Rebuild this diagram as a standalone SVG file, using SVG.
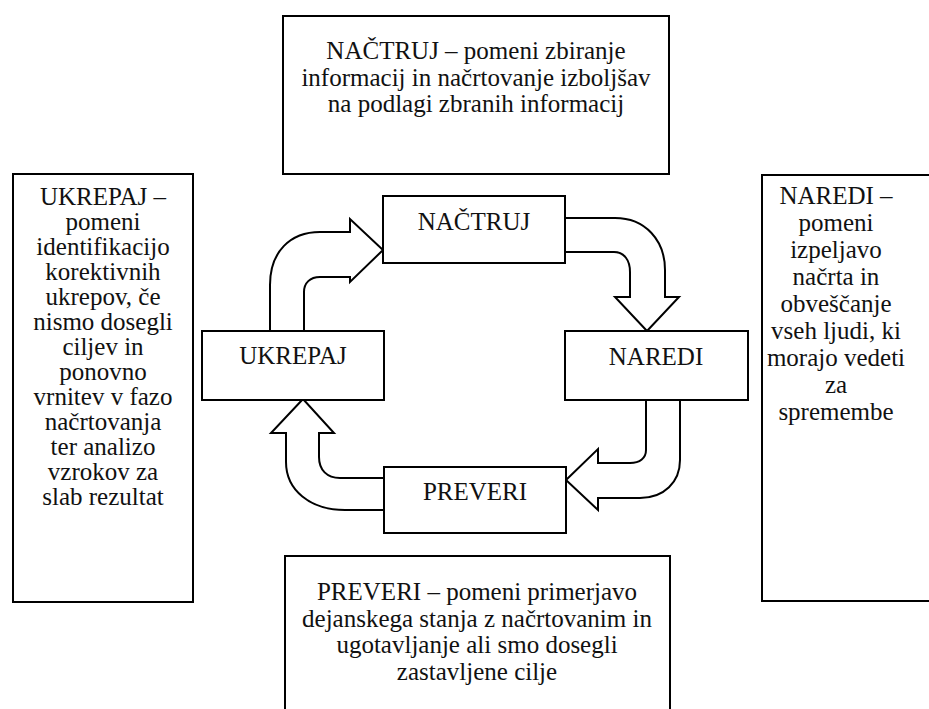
<svg xmlns="http://www.w3.org/2000/svg" width="929" height="709" viewBox="0 0 929 709">
<style>
.box{fill:#fff;stroke:#000;stroke-width:2}
.arr{fill:#fff;stroke:#000;stroke-width:2;stroke-linejoin:miter}
text{font-family:"Liberation Serif","Times New Roman",serif;font-size:25px;fill:#111;text-anchor:middle}
</style>
<rect width="929" height="709" fill="#fff"/>
<g id="desc-nactruj">
<rect class="box" x="283" y="16" width="386" height="158"/>
<text x="476" y="59">NAČTRUJ – pomeni zbiranje</text>
<text x="476" y="86">informacij in načrtovanje izboljšav</text>
<text x="476" y="112">na podlagi zbranih informacij</text>
</g>
<g id="desc-ukrepaj">
<rect class="box" x="13" y="174" width="180" height="428"/>
<text x="103" y="205">UKREPAJ –</text>
<text x="103" y="230">pomeni</text>
<text x="103" y="255">identifikacijo</text>
<text x="103" y="280">korektivnih</text>
<text x="103" y="305">ukrepov, če</text>
<text x="103" y="330">nismo dosegli</text>
<text x="103" y="355">ciljev in</text>
<text x="103" y="380">ponovno</text>
<text x="103" y="405">vrnitev v fazo</text>
<text x="103" y="430">načrtovanja</text>
<text x="103" y="455">ter analizo</text>
<text x="103" y="480">vzrokov za</text>
<text x="103" y="505">slab rezultat</text>
</g>
<g id="desc-naredi">
<rect class="box" x="762" y="175" width="190" height="426"/>
<text x="836" y="204">NAREDI –</text>
<text x="836" y="231">pomeni</text>
<text x="836" y="258">izpeljavo</text>
<text x="836" y="285">načrta in</text>
<text x="836" y="312">obveščanje</text>
<text x="836" y="339">vseh ljudi, ki</text>
<text x="836" y="366">morajo vedeti</text>
<text x="836" y="393">za</text>
<text x="836" y="420">spremembe</text>
</g>
<g id="desc-preveri">
<rect class="box" x="285" y="556" width="385" height="170"/>
<text x="477" y="600">PREVERI – pomeni primerjavo</text>
<text x="477" y="627">dejanskega stanja z načrtovanim in</text>
<text x="477" y="653">ugotavljanje ali smo dosegli</text>
<text x="477" y="680">zastavljene cilje</text>
</g>
<g id="connectors">
<path class="arr" d="M270,331 V285 C270,252 290,232 320,232 H350 V219 L383,250 L350,282 V277 H320 C310,277 304,283 304,292 V331"/>
<path class="arr" d="M565,218 H615 C645,218 665,240 665,270 V297 H679 L647,331 L615,297 H630 V272 C630,260 624,252 614,252 H565"/>
<path class="arr" d="M646,399 V450 C646,458 640,463 630,463 H598 V449 L566,480 L598,510 V498 H640 C664,498 680,482 680,460 V399"/>
<path class="arr" d="M384,478 H340 C327,478 319,470 319,457 V433 H334 L303,399 L271,433 H286 V462 C286,490 310,510 345,510 H384"/>
</g>
<g id="nactruj">
<rect class="box" x="383" y="196" width="182" height="67"/>
<text x="474" y="230">NAČTRUJ</text>
</g>
<g id="ukrepaj">
<rect class="box" x="202" y="331" width="182" height="69"/>
<text x="293" y="364">UKREPAJ</text>
</g>
<g id="naredi">
<rect class="box" x="565" y="331" width="183" height="69"/>
<text x="656" y="365">NAREDI</text>
</g>
<g id="preveri">
<rect class="box" x="384" y="467" width="182" height="66"/>
<text x="475" y="500">PREVERI</text>
</g>
</svg>
